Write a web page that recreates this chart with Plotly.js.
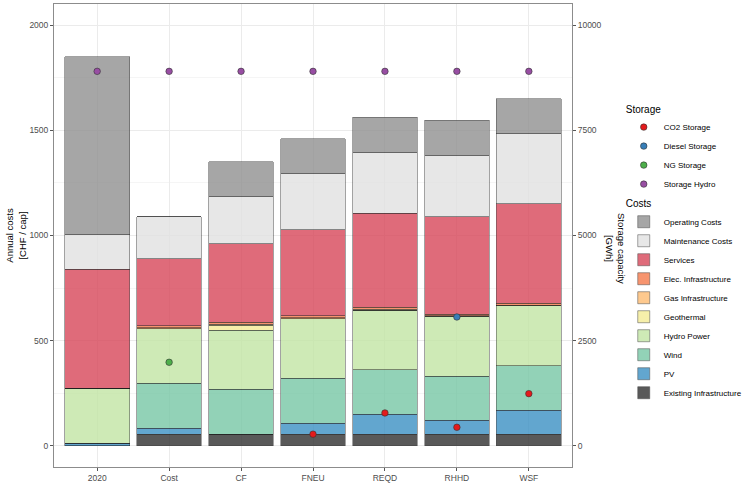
<!DOCTYPE html>
<html>
<head>
<meta charset="utf-8">
<script src="https://cdn.plot.ly/plotly-3.0.1.min.js"></script>
<style>html,body{margin:0;padding:0;background:#fff;}#chart{width:747px;height:498px;}</style>
</head>
<body>
<div id="chart"></div>
<script>
// ---- data ----
var categories = ['2020', 'Cost', 'CF', 'FNEU', 'REQD', 'RHHD', 'WSF'];

// cost components [CHF / cap]
var existingInfra  = [0,   56,  56,  56,  56,  56,  56];
var pv             = [13,  28,  0,   52,  95,  66,  114];
var wind           = [0,   214, 213, 214, 210, 210, 212];
var hydroPower     = [261, 259, 281, 283, 284, 284, 284];
var geothermal     = [0,   0,   23,  0,   0,   0,   0];
var gasInfra       = [0,   4,   5,   4,   4,   3,   3];
var elecInfra      = [0,   10,  9,   10,  10,  8,   8];
var services       = [565, 319, 374, 409, 446, 462, 475];
var maintenance    = [165, 198, 223, 267, 290, 293, 335];
var operating      = [845, 0,   167, 165, 166, 165, 163];

// storage capacity [GWh]
var co2Storage     = [null, null, null, 280,  784,  444,  1243];
var dieselStorage  = [null, null, null, null, null, 3064, null];
var ngStorage      = [null, 1988, null, null, null, null, null];
var storageHydro   = [8900, 8900, 8900, 8900, 8900, 8900, 8900];

// ---- styling ----
var costSeries = [
  {name: 'Existing Infrastructure', y: existingInfra, color: '#303030'},
  {name: 'PV',                      y: pv,            color: '#3b90c4'},
  {name: 'Wind',                    y: wind,          color: '#77c8a6'},
  {name: 'Hydro Power',             y: hydroPower,    color: '#c3e6a5'},
  {name: 'Geothermal',              y: geothermal,    color: '#f4ec95'},
  {name: 'Gas Infrastructure',      y: gasInfra,      color: '#febc72'},
  {name: 'Elec. Infrastructure',    y: elecInfra,     color: '#f67a4b'},
  {name: 'Services',                y: services,      color: '#d8475a'},
  {name: 'Maintenance Costs',       y: maintenance,   color: '#e2e2e2'},
  {name: 'Operating Costs',         y: operating,     color: '#909090'}
];
var storageSeries = [
  {name: 'CO2 Storage',    y: co2Storage,    color: '#e41a1c'},
  {name: 'Diesel Storage', y: dieselStorage, color: '#377eb8'},
  {name: 'NG Storage',     y: ngStorage,     color: '#4daf4a'},
  {name: 'Storage Hydro',  y: storageHydro,  color: '#984ea3'}
];

var FONT = 'Liberation Sans, Arial, Helvetica, sans-serif';
var TICKCOL = '#4d4d4d';
var traces = [];
costSeries.forEach(function (s) {
  traces.push({
    type: 'bar', name: s.name, x: categories, y: s.y,
    width: 0.9, opacity: 0.8,
    marker: {color: s.color, line: {color: 'rgba(30,30,30,0.85)', width: 0.6}},
    legend: 'legend2', hoverinfo: 'x+y+name'
  });
});
storageSeries.forEach(function (s) {
  traces.push({
    type: 'scatter', mode: 'markers', name: s.name, x: categories, y: s.y,
    yaxis: 'y2', legend: 'legend',
    marker: {color: s.color, size: 6.5, line: {color: '#333333', width: 0.6}}
  });
});

var layout = {
  width: 747, height: 498,
  margin: {l: 54, r: 175, t: 4, b: 31, autoexpand: false},
  paper_bgcolor: '#ffffff', plot_bgcolor: '#ffffff',
  font: {family: FONT, size: 8.5, color: TICKCOL},
  barmode: 'stack',
  showlegend: true,
  xaxis: {
    type: 'category', range: [-0.6, 6.6],
    showgrid: true, gridcolor: '#ebebeb', gridwidth: 1,
    ticks: 'outside', ticklen: 3, tickcolor: '#555555',
    showline: true, linecolor: '#8c8c8c', linewidth: 1, mirror: true,
    tickfont: {family: FONT, size: 8.5, color: TICKCOL},
    zeroline: false
  },
  yaxis: {
    range: [-100, 2100], tick0: 0, dtick: 500,
    showgrid: true, gridcolor: '#ebebeb', gridwidth: 1,
    minor: {tick0: 0, dtick: 250, showgrid: true, gridcolor: '#f5f5f5', gridwidth: 0.6, ticks: ''},
    ticks: 'outside', ticklen: 3, tickcolor: '#555555',
    showline: true, linecolor: '#8c8c8c', linewidth: 1, mirror: true,
    zeroline: false,
    tickfont: {family: FONT, size: 8.5, color: TICKCOL},
    title: {text: 'Annual costs<br>[CHF / cap]', font: {family: FONT, size: 9.5, color: '#000000'}, standoff: 1}
  },
  yaxis2: {
    overlaying: 'y', side: 'right',
    range: [-500, 10500], tick0: 0, dtick: 2500, tickformat: 'd',
    showgrid: false, zeroline: false,
    ticks: 'outside', ticklen: 3, tickcolor: '#555555',
    showline: false, color: TICKCOL,
    tickfont: {family: FONT, size: 8.5, color: TICKCOL}
  },
  legend: {
    title: {text: 'Storage', font: {family: FONT, size: 10, color: '#000000'}},
    font: {family: FONT, size: 8, color: '#000000'},
    xref: 'container', yref: 'container',
    x: 0.835, xanchor: 'left', y: 0.80, yanchor: 'top',
    bgcolor: 'rgba(0,0,0,0)'
  },
  legend2: {
    title: {text: 'Costs', font: {family: FONT, size: 10, color: '#000000'}},
    font: {family: FONT, size: 8, color: '#000000'},
    xref: 'container', yref: 'container',
    x: 0.835, xanchor: 'left', y: 0.61, yanchor: 'top',
    traceorder: 'reversed',
    bgcolor: 'rgba(0,0,0,0)'
  },
  annotations: [{
    text: 'Storage capacity<br>[GWh]', textangle: 90,
    xref: 'paper', yref: 'paper', x: 1.085, y: 0.473,
    xanchor: 'center', yanchor: 'middle', showarrow: false,
    font: {family: FONT, size: 9.5, color: '#000000'}
  }]
};

Plotly.newPlot('chart', traces, layout, {displayModeBar: false, responsive: false});
</script>
</body>
</html>
